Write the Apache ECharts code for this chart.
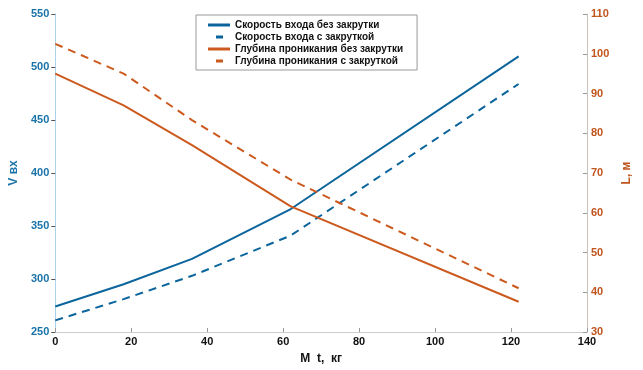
<!DOCTYPE html>
<html>
<head>
<meta charset="utf-8">
<script src="https://cdn.jsdelivr.net/npm/echarts@6/dist/echarts.min.js"></script>
<style>
  html, body { margin: 0; padding: 0; background: #fff; }
  #chart { width: 643px; height: 370px; }
</style>
</head>
<body>
<div id="chart"></div>
<script>
// масса (x) и значения
const massKg = [0, 18, 36, 62, 122];
const speedNoSpin = [274, 295, 319, 366, 510];
const speedSpin = [261, 281, 303, 341, 484];
const depthNoSpin = [95, 87, 77, 61.6, 37.6];
const depthSpin = [102.5, 95, 83.3, 68.3, 41];

const seriesNames = [
  "Скорость входа без закрутки",
  "Скорость входа с закруткой",
  "Глубина проникания без закрутки",
  "Глубина проникания с закруткой",
];

const blue = "#0b659c";
const orange = "#cc5a1e";
const font = "Liberation Sans, Arial, sans-serif";

// legend icons: full line for solid, one short dash for dashed
const solidIcon = "path://M0,0 L22,0 L22,3 L0,3 Z";
const dashIcon =
  "path://M0,0 L0.05,0 L0.05,0.05 Z M8,0 L15,0 L15,3 L8,3 Z M21.95,2.95 L22,2.95 L22,3 Z";

function pairs(ys) {
  return massKg.map((x, i) => [x, ys[i]]);
}

const chart = echarts.init(document.getElementById("chart"));
chart.setOption({
  animation: false,
  textStyle: { fontFamily: font },
  grid: { left: 44, right: 56, top: 14, bottom: 35 },
  legend: {
    orient: "vertical",
    left: 196,
    top: 15,
    width: 219,
    padding: [5, 14, 4, 12],
    itemGap: 2,
    itemWidth: 22,
    itemHeight: 3,
    backgroundColor: "#fff",
    borderColor: "#999",
    borderWidth: 1,
    textStyle: { fontSize: 10, fontWeight: "bold", color: "#111", fontFamily: font },
    data: [
      { name: seriesNames[0], icon: solidIcon },
      { name: seriesNames[1], icon: dashIcon },
      { name: seriesNames[2], icon: solidIcon },
      { name: seriesNames[3], icon: dashIcon },
    ],
  },
  xAxis: {
    type: "value",
    min: 0,
    max: 140,
    interval: 20,
    name: "M  t,  кг",
    nameLocation: "middle",
    nameGap: 21,
    nameTextStyle: { fontSize: 12, fontWeight: "bold", color: "#111" },
    axisLine: { lineStyle: { color: "#ccc" } },
    axisTick: { inside: true, length: 4, lineStyle: { color: "#999" } },
    axisLabel: { fontSize: 11, fontWeight: "bold", color: "#111", margin: 4 },
    splitLine: { show: false },
  },
  yAxis: [
    {
      type: "value",
      min: 250,
      max: 550,
      interval: 50,
      name: "V вх",
      nameLocation: "middle",
      nameGap: 23,
      nameTextStyle: { fontSize: 12, fontWeight: "bold", color: "#1a73a8" },
      axisLine: { show: true, lineStyle: { color: "#a9d3ea" } },
      axisTick: { show: true, length: 4, lineStyle: { color: "#555" } },
      axisLabel: { fontSize: 11, fontWeight: "bold", color: "#1a73a8", margin: 6 },
      splitLine: { show: false },
    },
    {
      type: "value",
      min: 30,
      max: 110,
      interval: 10,
      name: "L, м",
      nameLocation: "middle",
      nameGap: 28,
      nameRotate: 90,
      nameTextStyle: { fontSize: 12, fontWeight: "bold", color: "#c0551d" },
      axisLine: { show: true, lineStyle: { color: "#c9c2b8" } },
      axisTick: { show: true, inside: true, length: 4, lineStyle: { color: "#999" } },
      axisLabel: { fontSize: 11, fontWeight: "bold", color: "#c0551d", margin: 4 },
      splitLine: { show: false },
    },
  ],
  series: [
    {
      name: seriesNames[0],
      type: "line",
      yAxisIndex: 0,
      data: pairs(speedNoSpin),
      symbol: "none",
      color: blue,
      lineStyle: { color: blue, width: 2 },
    },
    {
      name: seriesNames[1],
      type: "line",
      yAxisIndex: 0,
      data: pairs(speedSpin),
      symbol: "none",
      color: blue,
      lineStyle: { color: blue, width: 2, type: [8, 6] },
    },
    {
      name: seriesNames[2],
      type: "line",
      yAxisIndex: 1,
      data: pairs(depthNoSpin),
      symbol: "none",
      color: orange,
      lineStyle: { color: orange, width: 2 },
    },
    {
      name: seriesNames[3],
      type: "line",
      yAxisIndex: 1,
      data: pairs(depthSpin),
      symbol: "none",
      color: orange,
      lineStyle: { color: orange, width: 2, type: [8, 6] },
    },
  ],
});
</script>
</body>
</html>
